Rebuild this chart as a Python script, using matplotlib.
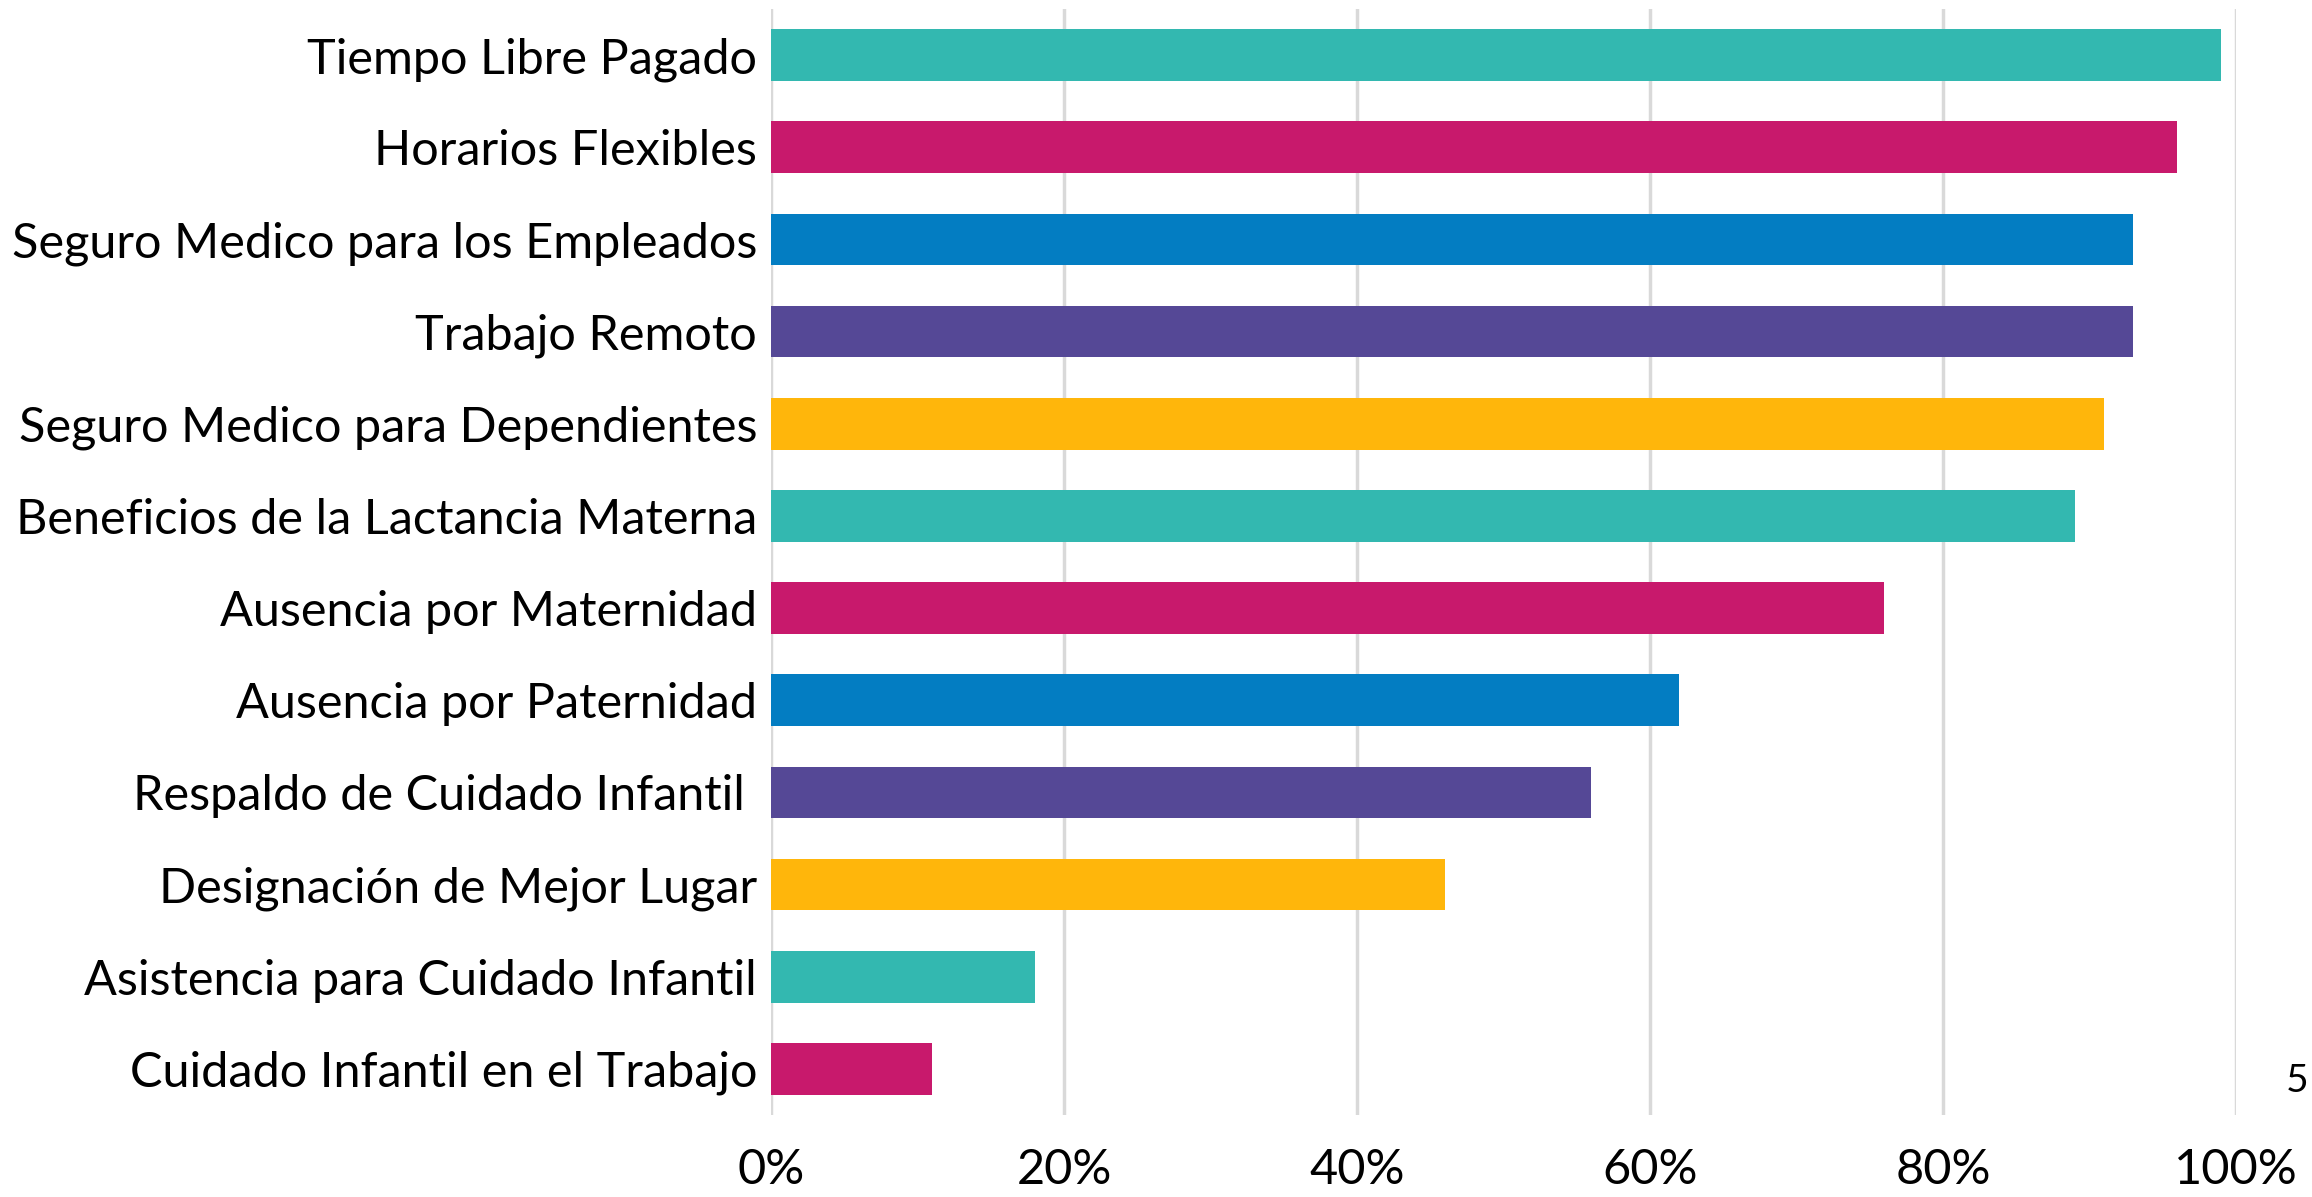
import matplotlib
matplotlib.use("Agg")
import matplotlib.pyplot as plt

categories = [
    "Tiempo Libre Pagado",
    "Horarios Flexibles",
    "Seguro Medico para los Empleados",
    "Trabajo Remoto",
    "Seguro Medico para Dependientes",
    "Beneficios de la Lactancia Materna",
    "Ausencia por Maternidad",
    "Ausencia por Paternidad",
    "Respaldo de Cuidado Infantil ",
    "Designación de Mejor Lugar",
    "Asistencia para Cuidado Infantil",
    "Cuidado Infantil en el Trabajo",
]
values = [99, 96, 93, 93, 91, 89, 76, 62, 56, 46, 18, 11]
palette = ["#33b8b0", "#c8196c", "#037dc2", "#554896", "#ffb60b"]
xticks = [0, 20, 40, 60, 80, 100]
xtick_labels = ["0%", "20%", "40%", "60%", "80%", "100%"]

plt.rcParams['font.family'] = ['Lato', 'DejaVu Sans']

fig = plt.figure(figsize=(23.12, 11.97), dpi=100)
ax = fig.add_axes([0.3335, 0.0685, 0.9671 - 0.3335, 0.9925 - 0.0685])

colors = [palette[i % len(palette)] for i in range(len(categories))]
ypos = list(range(len(categories)))
ax.barh(ypos, values, height=0.56, color=colors, zorder=3)

ax.set_xlim(0, 100)
ax.set_ylim(len(categories) - 0.5, -0.5)
ax.set_yticks(ypos)
ax.set_yticklabels(categories, fontsize=35)
ax.set_xticks(xticks)
ax.set_xticklabels(xtick_labels, fontsize=35)
ax.tick_params(axis='both', length=0)
ax.tick_params(axis='x', pad=24)
ax.tick_params(axis='y', pad=10)

ax.grid(axis='x', color='#d9d9d9', linewidth=2.5, zorder=0)
for s in ax.spines.values():
    s.set_visible(False)

fig.text(2297 / 2312, 1 - 1081 / 1197, "5", fontsize=28, ha='center', va='center')

fig.savefig("out.png", dpi=100, facecolor='white')
